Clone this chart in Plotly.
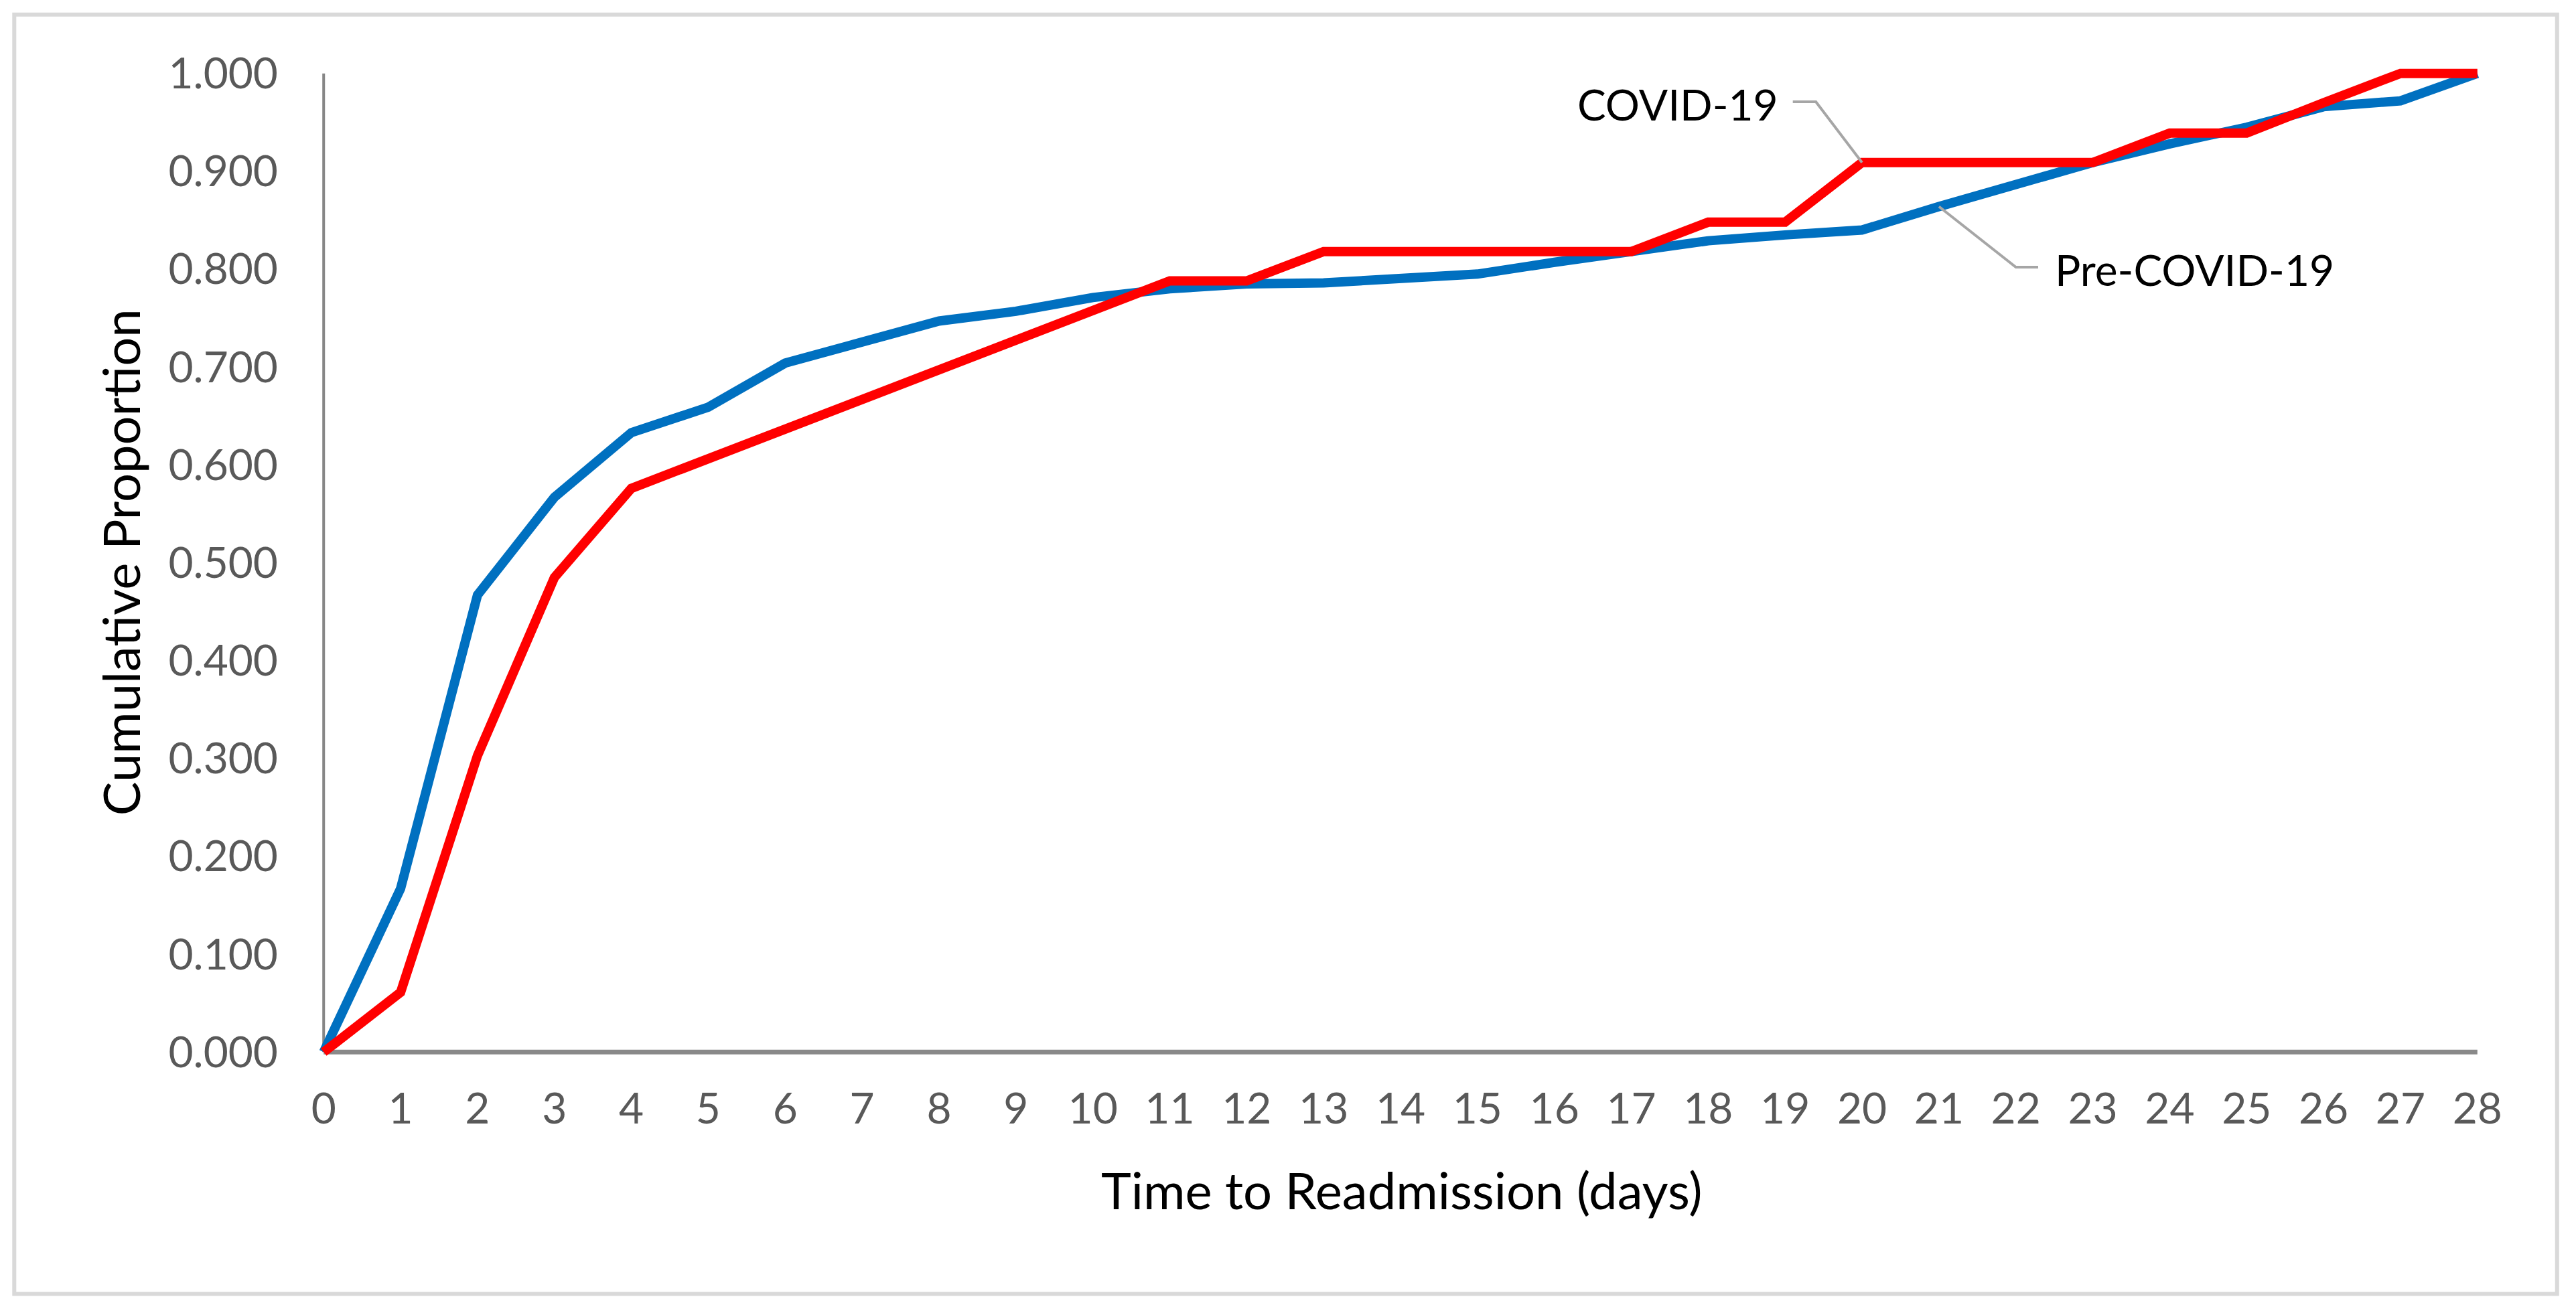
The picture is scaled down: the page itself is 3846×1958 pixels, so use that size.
import plotly.graph_objects as go

# time to readmission, days 0..28
days = list(range(29))

# cumulative proportion readmitted
pre_covid = [0.000, 0.167, 0.467, 0.567, 0.633, 0.659, 0.704, 0.726, 0.747, 0.757,
             0.771, 0.780, 0.785, 0.786, 0.790, 0.795, 0.807, 0.817, 0.829, 0.835,
             0.840, 0.864, 0.886, 0.909, 0.928, 0.945, 0.966, 0.972, 1.000]
covid = [0.000, 0.061, 0.303, 0.485, 0.576, 0.606, 0.636, 0.667, 0.697, 0.727,
         0.758, 0.788, 0.788, 0.818, 0.818, 0.818, 0.818, 0.818, 0.848, 0.848,
         0.909, 0.909, 0.909, 0.909, 0.939, 0.939, 0.970, 1.000, 1.000]

y_ticks = [0.0, 0.1, 0.2, 0.3, 0.4, 0.5, 0.6, 0.7, 0.8, 0.9, 1.0]

# page body has an 8px margin, so the figure is drawn a bit smaller and shifted
PAGE_W, PAGE_H = 3846, 1958
OFF = 8
W, H = PAGE_W - 2 * OFF, PAGE_H - 2 * OFF
FONT = "Lato, Carlito, 'Open Sans', sans-serif"
BLUE = "#0070c0"
RED = "#ff0000"

# where day 0 / day 28 and 0 / 1 sit in the picture (page pixels)
X0_PX, X28_PX = 483 - OFF, 3699 - OFF
Y0_PX, Y1_PX = 1571 - OFF, 110 - OFF
x_range = [-0.15, 28.15]
y_range = [-0.008, 1.008]

px_day = (X28_PX - X0_PX) / 28
px_unit = Y0_PX - Y1_PX
ml = X0_PX + x_range[0] * px_day
mr = W - (X0_PX + x_range[1] * px_day)
mt = Y0_PX - y_range[1] * px_unit
mb = H - (Y0_PX - y_range[0] * px_unit)


def px_to_paper(x, y):
    # page pixel -> paper coordinates
    x, y = x - OFF, y - OFF
    return (x - ml) / (W - ml - mr), (H - mb - y) / (H - mt - mb)


fig = go.Figure()
fig.add_trace(go.Scatter(x=days, y=pre_covid, mode="lines", name="Pre-COVID-19",
                         line=dict(color=BLUE, width=14)))
fig.add_trace(go.Scatter(x=days, y=covid, mode="lines", name="COVID-19",
                         line=dict(color=RED, width=14)))

# axis lines (Excel style: vertical thin, horizontal thick)
fig.add_shape(type="line", x0=0, x1=0, y0=0, y1=1, xref="x", yref="y",
              line=dict(color="#868686", width=4), layer="below")
fig.add_shape(type="line", x0=0, x1=28, y0=0, y1=0, xref="x", yref="y",
              line=dict(color="#898989", width=7), layer="below")

# leader lines for the series labels
fig.add_shape(type="path", xref="x", yref="y",
              path=f"M 19.10,0.971 L 19.40,0.971 L 20,{covid[20]}",
              line=dict(color="#a6a6a6", width=4))
fig.add_shape(type="path", xref="x", yref="y",
              path=f"M 21,{pre_covid[21]} L 22.0,0.802 L 22.29,0.802",
              line=dict(color="#a6a6a6", width=4))

# outer frame
fx0, fy0 = px_to_paper(21, 22)
fx1, fy1 = px_to_paper(3818, 1932)
fig.add_shape(type="rect", xref="paper", yref="paper", x0=fx0, y0=fy0, x1=fx1, y1=fy1,
              line=dict(color="#d9d9d9", width=6), layer="below")

fig.add_annotation(x=18.93, y=0.969, xref="x", yref="y", text="COVID-19",
                   showarrow=False, xanchor="right", yanchor="middle",
                   font=dict(family=FONT, size=64, color="black"))
fig.add_annotation(x=22.49, y=0.800, xref="x", yref="y", text="Pre-COVID-19",
                   showarrow=False, xanchor="left", yanchor="middle",
                   font=dict(family=FONT, size=64, color="black"))

# axis titles
tx, ty = px_to_paper(180, 840)
fig.add_annotation(x=tx, y=ty, xref="paper", yref="paper", text="Cumulative Proportion",
                   textangle=-90, showarrow=False, xanchor="center", yanchor="middle",
                   font=dict(family=FONT, size=76, color="black"))
tx, ty = px_to_paper(2093, 1776)
fig.add_annotation(x=tx, y=ty, xref="paper", yref="paper", text="Time to Readmission (days)",
                   showarrow=False, xanchor="center", yanchor="middle",
                   font=dict(family=FONT, size=76, color="black"))

fig.update_xaxes(range=x_range, tickmode="array", tickvals=days,
                 ticktext=[str(d) for d in days], showgrid=False, zeroline=False,
                 showline=False, ticks="", ticklabelstandoff=30,
                 tickfont=dict(family=FONT, size=64, color="#595959"))
fig.update_yaxes(range=y_range, tickmode="array", tickvals=y_ticks,
                 ticktext=[f"{v:.3f}" for v in y_ticks], showgrid=False, zeroline=False,
                 showline=False, ticks="", ticklabelstandoff=50,
                 tickfont=dict(family=FONT, size=64, color="#595959"))

fig.update_layout(width=W, height=H, showlegend=False,
                  paper_bgcolor="white", plot_bgcolor="white",
                  margin=dict(l=ml, r=mr, t=mt, b=mb, autoexpand=False))

fig.write_html("out.html")
